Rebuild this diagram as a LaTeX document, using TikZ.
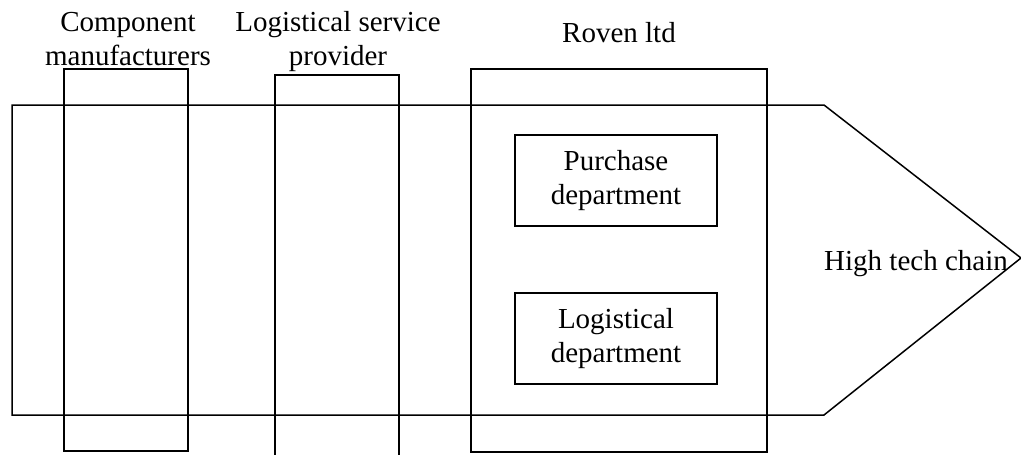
\documentclass[tikz,border=0pt]{standalone}
\usepackage{fontspec}
\setmainfont{Liberation Serif}
\begin{document}
\begin{tikzpicture}[x=1pt,y=-1pt,
  box/.style={draw=black,line width=1.5pt,inner sep=0pt},
  lbl/.style={align=center,inner sep=0pt,font=\fontsize{29}{34}\selectfont}]
\useasboundingbox (0,0) rectangle (1021,455);
\clip (0,0) rectangle (1021,455);
% chain arrow
\draw[line width=1.5pt,line join=miter] (12,105) -- (824,105) -- (1021,258) -- (824,415) -- (12,415) -- cycle;
% vertical boxes
\node[box,minimum width=124pt,minimum height=382pt] (cm) at (126,260) {};
\node[box,minimum width=124pt,minimum height=400pt] (lsp) at (337,275) {};
\node[box,minimum width=296pt,minimum height=383pt] (rov) at (619,260.5) {};
% departments
\node[box,lbl,minimum width=202pt,minimum height=91pt] (pur) at (616,180.5) {Purchase\\department};
\node[box,lbl,minimum width=202pt,minimum height=91pt] (log) at (616,338.5) {Logistical\\department};
% labels
\node[lbl,anchor=base] (cmt) at (128,65.5) {Component\\manufacturers};
\node[lbl,anchor=base] (lspt) at (338,65.5) {Logistical service\\provider};
\node[lbl,anchor=base] (rovt) at (619,42) {Roven ltd};
\node[lbl,anchor=base] (htc) at (916,270) {High tech chain};
\end{tikzpicture}
\end{document}
